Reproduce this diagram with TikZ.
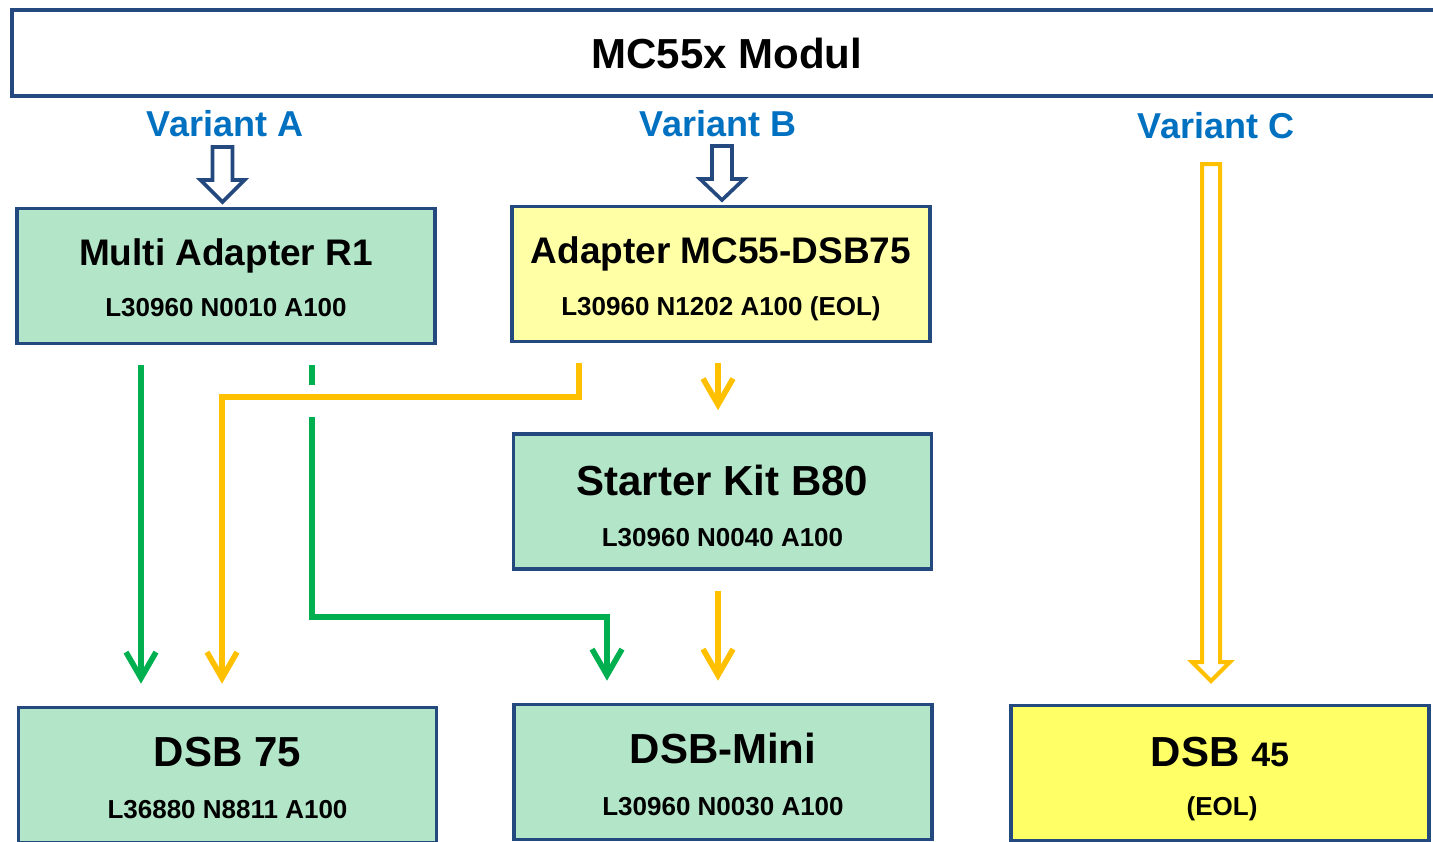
\documentclass[tikz,border=0pt]{standalone}
\usepackage{fontspec}
\setmainfont{Liberation Sans}
\usetikzlibrary{arrows.meta,positioning,calc}
\definecolor{cFrame}{HTML}{23497E}
\definecolor{cVar}  {HTML}{0070C0}
\definecolor{cGrn}  {HTML}{00B050}
\definecolor{cYel}  {HTML}{FFC000}
\definecolor{cMint} {HTML}{B3E6C9}
\definecolor{cCream}{HTML}{FFFFA6}
\definecolor{cLemon}{HTML}{FFFF66}
\tikzset{
  blk/.style  ={draw=cFrame,line width=1.8pt,minimum width=209pt,minimum height=67.5pt,
                inner sep=0pt},
  part/.style ={blk,fill=cMint},
  eol/.style  ={blk,fill=cCream},
  ttl/.style  ={anchor=base,inner sep=0pt,font=\fontsize{21}{25}\selectfont\bfseries},
  ttls/.style ={ttl,font=\fontsize{18.5}{22}\selectfont\bfseries},
  pno/.style  ={anchor=base,inner sep=0pt,font=\fontsize{13}{16}\selectfont\bfseries},
  var/.style  ={anchor=base,inner sep=0pt,text=cVar,font=\fontsize{18}{22}\selectfont\bfseries},
  con/.style  ={line width=2.8pt,shorten <=10pt,shorten >=11pt,
                -{Straight Barb[length=13pt,width=15pt]}},
  grn/.style  ={con,draw=cGrn},
  yel/.style  ={con,draw=cYel},
  hollow/.style={fill=white,line width=1.8pt,line join=miter},
}
% hollow block arrow: x, top, neck, tip, shaft half width, head half width, colour
\newcommand{\hollowarrow}[7]{%
  \draw[hollow,draw=#7] ({#1-#5},#2) -- ({#1+#5},#2) -- ({#1+#5},#3) -- ({#1+#6},#3)
    -- (#1,#4) -- ({#1-#6},#3) -- ({#1-#5},#3) -- cycle;}

\begin{document}
\begin{tikzpicture}[x=0.5pt,y=-0.5pt]
\useasboundingbox (0,0) rectangle (1433,841);
\clip (0,0) rectangle (1433,841);

% ===== module and variants ===============================================
\node[blk,fill=white,minimum width=715pt,minimum height=43pt] (mod) at (727,53) {};
\node[ttl] (modT) at (727,68) {MC55x Modul};

\node[var] (vA) at (225,136)  {Variant A};
\node[var] (vB) at (718,136)  {Variant B};
\node[var] (vC) at (1216,138) {Variant C};

\hollowarrow{222.5}{147}{180}{202}{10}{22}{cFrame}
\hollowarrow{722}{146}{179}{200}{10}{22}{cFrame}
\tikzset{hollow/.append style={line width=2pt}}
\hollowarrow{1211}{164}{662}{681}{9}{19}{cYel}

% ===== adapters ==========================================================
\node[part] (ma) at (226,276) {};
\node[ttls] (maT) at ($(ma.north)+(0,59)$)  {Multi Adapter R1};
\node[pno]  (maP) at ($(ma.north)+(0,110)$) {L30960 N0010 A100};

\node[eol] (ad) at (721,274) {};
\node[ttls] (adT) at ($(ad.north)+(0,59)$)  {Adapter MC55-DSB75};
\node[pno]  (adP) at ($(ad.north)+(0,111)$) {L30960 N1202 A100 (EOL)};

\node[part] (sk) at (722.5,501.5) {};
\node[ttl] (skT) at ($(sk.north)+(0,63)$)  {Starter Kit B80};
\node[pno] (skP) at ($(sk.north)+(0,114)$) {L30960 N0040 A100};

% ===== boards ============================================================
\node[part] (d75) at (227.5,775) {};
\node[ttl] (d75T) at ($(d75.north)+(0,61)$)  {DSB 75};
\node[pno] (d75P) at ($(d75.north)+(0,113)$) {L36880 N8811 A100};

\node[part] (dmini) at (723,772) {};
\node[ttl] (dminiT) at ($(dmini.north)+(0,61)$)  {DSB-Mini};
\node[pno] (dminiP) at ($(dmini.north)+(0,113)$) {L30960 N0030 A100};

\node[blk,fill=cLemon] (d45) at (1220,773) {};
\node[ttl] (d45T) at ($(d45.north)+(0,63)$)  {DSB {\fontsize{17}{20}\selectfont 45}};
\node[pno] (d45P) at ($(d45.north)+(1222-1220,112)$) {(EOL)};

% ===== connections =======================================================
\coordinate (g1) at (141,500);
\coordinate (yk) at (579,397);
\coordinate (yd) at (222,397);
\coordinate (yc) at (718,500);
\coordinate (gk) at (312,617);
\coordinate (gm) at (607,617);

\draw[grn] (ma.south -| g1) -- (g1 |- d75.north);
\draw[yel] (ad.south -| yk) -- (yk) -- (yd) -- (yd |- d75.north);
% green run to DSB-Mini is broken where it crosses the yellow line
\draw[grn,-,shorten >=6pt] (ma.south -| gk) -- (gk |- yd);
\draw[grn] (gk |- yd) -- (gk) -- (gm) -- (gm |- dmini.north);
\draw[yel] (ad.south -| yc) -- (yc |- sk.north);
\draw[yel] (sk.south -| yc) -- (yc |- dmini.north);
\end{tikzpicture}
\end{document}
